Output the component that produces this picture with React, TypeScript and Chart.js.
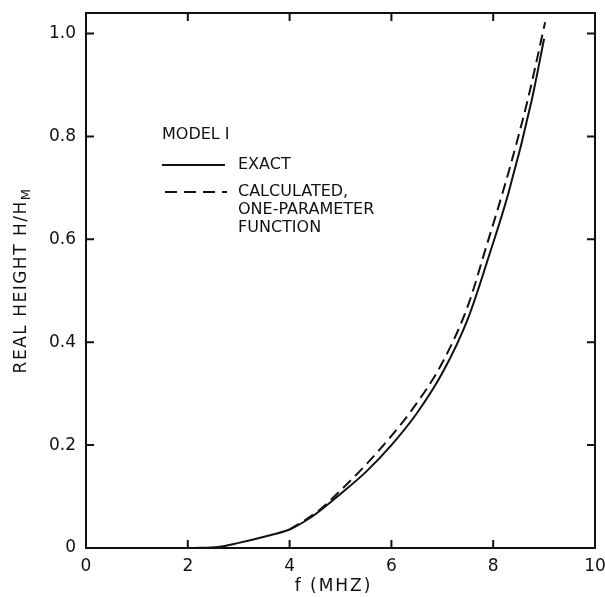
import { useEffect, useRef } from "react";
import { Chart, registerables } from "chart.js";

Chart.register(...registerables);

// ---- data ----
const fExact = [2.1, 2.6, 3.0, 3.5, 4.0, 4.3, 4.54, 5.0, 5.5, 6.0, 6.5, 7.0, 7.5, 7.94, 8.3, 8.76, 9.0];
const hExact = [0, 0.002, 0.01, 0.022, 0.036, 0.052, 0.068, 0.105, 0.148, 0.2, 0.262, 0.34, 0.445, 0.575, 0.69, 0.872, 0.99];

const fCalc = [4.0, 4.3, 4.6, 5.0, 5.5, 6.0, 6.4, 7.0, 7.5, 7.84, 8.3, 8.68, 9.02];
const hCalc = [0.036, 0.054, 0.075, 0.112, 0.162, 0.218, 0.268, 0.36, 0.47, 0.578, 0.73, 0.872, 1.022];

const xTickValues = [0, 2, 4, 6, 8, 10];
const xTickLabels = ["0", "2", "4", "6", "8", "10"];
const yTickValues = [0, 0.2, 0.4, 0.6, 0.8, 1.0];
const yTickLabels = ["0", "0.2", "0.4", "0.6", "0.8", "1.0"];

const xTitle = "f (MHZ)";
const yTitleMain = "REAL HEIGHT H/H";
const yTitleSub = "M";
const legendTitle = "MODEL I";
const legendExact = ["EXACT"];
const legendCalc = ["CALCULATED,", "ONE-PARAMETER", "FUNCTION"];

const FONT = '"DejaVu Sans", sans-serif';
const INK = "#111111";

const decorPlugin = {
  id: "decor",
  afterDraw(chart: any) {
    const ctx = chart.ctx as CanvasRenderingContext2D;
    const { left, right, top, bottom } = chart.chartArea;
    const xs = chart.scales.x;
    const ys = chart.scales.y;
    ctx.save();
    ctx.strokeStyle = INK;
    ctx.fillStyle = INK;
    ctx.lineWidth = 2;
    ctx.setLineDash([]);
    // frame
    ctx.strokeRect(left, top, right - left, bottom - top);
    // inward ticks on all four sides
    const tl = 8;
    ctx.beginPath();
    for (const v of xTickValues) {
      const px = xs.getPixelForValue(v);
      ctx.moveTo(px, bottom);
      ctx.lineTo(px, bottom - tl);
      ctx.moveTo(px, top);
      ctx.lineTo(px, top + tl);
    }
    for (const v of yTickValues) {
      const py = ys.getPixelForValue(v);
      ctx.moveTo(left, py);
      ctx.lineTo(left + tl, py);
      ctx.moveTo(right, py);
      ctx.lineTo(right - tl, py);
    }
    ctx.stroke();

    // x title
    ctx.font = `17px ${FONT}`;
    ctx.textAlign = "center";
    ctx.textBaseline = "middle";
    (ctx as any).letterSpacing = "2px";
    ctx.fillText(xTitle, (left + right) / 2 - 7, 587);

    // y title with subscript
    ctx.save();
    ctx.translate(22, (top + bottom) / 2);
    ctx.rotate(-Math.PI / 2);
    (ctx as any).letterSpacing = "1.5px";
    ctx.font = `17px ${FONT}`;
    const wMain = ctx.measureText(yTitleMain).width;
    ctx.font = `13px ${FONT}`;
    const wSub = ctx.measureText(yTitleSub).width;
    const x0 = -(wMain + wSub) / 2;
    ctx.textAlign = "left";
    ctx.font = `17px ${FONT}`;
    ctx.fillText(yTitleMain, x0, 0);
    ctx.font = `13px ${FONT}`;
    ctx.fillText(yTitleSub, x0 + wMain, 5);
    ctx.restore();

    // legend
    (ctx as any).letterSpacing = "0px";
    ctx.font = `16px ${FONT}`;
    ctx.textAlign = "left";
    ctx.textBaseline = "middle";
    ctx.fillText(legendTitle, 162, 135);
    ctx.beginPath();
    ctx.moveTo(162, 165);
    ctx.lineTo(225, 165);
    ctx.stroke();
    legendExact.forEach((t, i) => ctx.fillText(t, 238, 165 + i * 18));
    ctx.setLineDash([12, 7]);
    ctx.beginPath();
    ctx.moveTo(165, 192);
    ctx.lineTo(227, 192);
    ctx.stroke();
    ctx.setLineDash([]);
    legendCalc.forEach((t, i) => ctx.fillText(t, 238, 192 + i * 18));
    ctx.restore();
  },
};

export default function App() {
  const ref = useRef<HTMLCanvasElement | null>(null);
  useEffect(() => {
    if (!ref.current) return;
    const chart = new Chart(ref.current, {
      type: "line",
      data: {
        datasets: [
          {
            label: "EXACT",
            data: fExact.map((f, i) => ({ x: f, y: hExact[i] })),
            borderColor: INK,
            borderWidth: 2,
            pointRadius: 0,
            fill: false,
            cubicInterpolationMode: "monotone",
          },
          {
            label: "CALCULATED",
            data: fCalc.map((f, i) => ({ x: f, y: hCalc[i] })),
            borderColor: INK,
            borderWidth: 2,
            borderDash: [11, 6],
            pointRadius: 0,
            fill: false,
            cubicInterpolationMode: "monotone",
          },
        ],
      },
      options: {
        responsive: false,
        animation: false,
        layout: { padding: { top: 13, right: 10, left: 0, bottom: 0 } },
        plugins: { legend: { display: false }, tooltip: { enabled: false } },
        scales: {
          x: {
            type: "linear",
            min: 0,
            max: 10,
            afterBuildTicks: (s: any) => {
              s.ticks = xTickValues.map((v) => ({ value: v }));
            },
            afterFit: (s: any) => {
              s.height = 49;
              s.paddingLeft = 0;
              s.paddingRight = 0;
            },
            grid: { display: false, drawTicks: false },
            border: { display: false },
            ticks: {
              padding: 8,
              color: INK,
              font: { family: FONT, size: 17 },
              maxRotation: 0,
              callback: (v: any) => {
                const i = xTickValues.indexOf(Number(v));
                return i >= 0 ? xTickLabels[i] : "";
              },
            },
          },
          y: {
            type: "linear",
            min: 0,
            max: 1.04,
            afterBuildTicks: (s: any) => {
              s.ticks = yTickValues.map((v) => ({ value: v }));
            },
            afterFit: (s: any) => {
              s.width = 86;
              s.paddingTop = 0;
              s.paddingBottom = 0;
            },
            grid: { display: false, drawTicks: false },
            border: { display: false },
            ticks: {
              padding: 10,
              color: INK,
              font: { family: FONT, size: 17 },
              callback: (v: any) => {
                const i = yTickValues.findIndex((t) => Math.abs(t - Number(v)) < 1e-9);
                return i >= 0 ? yTickLabels[i] : "";
              },
            },
          },
        },
      },
      plugins: [decorPlugin],
    } as any);
    return () => chart.destroy();
  }, []);
  return (
    <div style={{ position: "absolute", left: 0, top: 0, width: 605, height: 597, background: "#fff" }}>
      <canvas ref={ref} width={605} height={597} style={{ width: 605, height: 597 }} />
    </div>
  );
}
